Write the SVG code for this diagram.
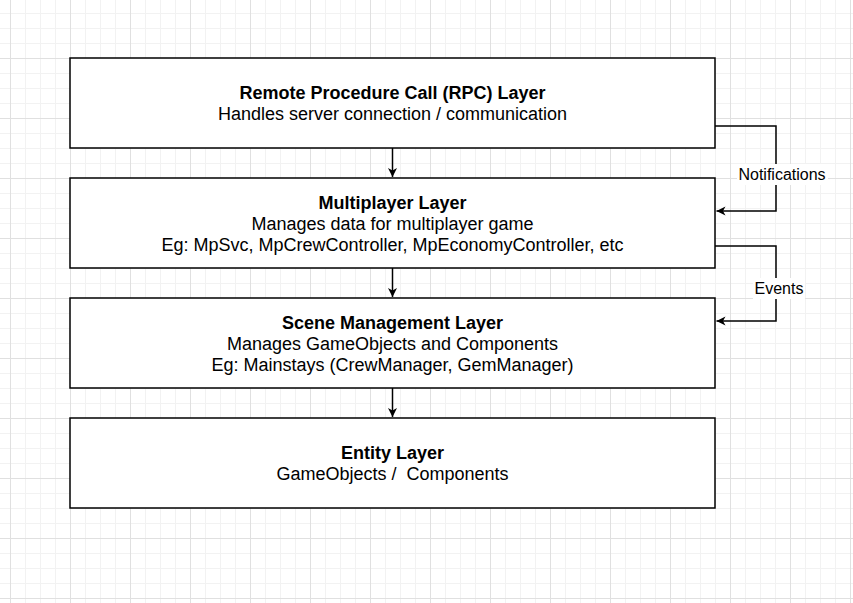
<svg xmlns="http://www.w3.org/2000/svg" width="853" height="603" viewBox="0 0 853 603">
  <style>
    .box { fill: #ffffff; stroke: #000000; stroke-width: 1.5; }
    .t { font-family: "Liberation Sans", Arial, Helvetica, sans-serif; font-size: 18px; fill: #000000; text-anchor: middle; }
    .l { font-family: "Liberation Sans", Arial, Helvetica, sans-serif; font-size: 16px; fill: #000000; text-anchor: middle; }
    .b { font-weight: bold; }
    .edge { fill: none; stroke: #000000; stroke-width: 1.5; }
    .lblbg { fill: #ffffff; }
  </style>
  <defs>
    <pattern id="grid" patternUnits="userSpaceOnUse" x="10" y="-2" width="60" height="60">
      <rect x="15" y="0" width="1" height="60" fill="#f2f2f2"/>
      <rect x="30" y="0" width="1" height="60" fill="#f2f2f2"/>
      <rect x="45" y="0" width="1" height="60" fill="#f2f2f2"/>
      <rect x="0" y="15" width="60" height="1" fill="#f2f2f2"/>
      <rect x="0" y="30" width="60" height="1" fill="#f2f2f2"/>
      <rect x="0" y="45" width="60" height="1" fill="#f2f2f2"/>
      <rect x="0" y="0" width="1" height="60" fill="#e0e0e0"/>
      <rect x="0" y="0" width="60" height="1" fill="#e0e0e0"/>
    </pattern>
    <marker id="arrow" markerUnits="userSpaceOnUse" viewBox="-10 -5 11 10" refX="0" refY="0" markerWidth="11" markerHeight="10" orient="auto">
      <path d="M0,0 L-9,-4.5 L-6.5,0 L-9,4.5 Z" fill="#000000" stroke="none"/>
    </marker>
  </defs>
  <rect x="0" y="0" width="853" height="603" fill="#ffffff"/>
  <rect x="0" y="0" width="853" height="603" fill="url(#grid)"/>

  <g id="connectors">
    <line class="edge" x1="392.5" y1="148" x2="392.5" y2="177" marker-end="url(#arrow)"/>
    <line class="edge" x1="392.5" y1="268" x2="392.5" y2="297" marker-end="url(#arrow)"/>
    <line class="edge" x1="392.5" y1="388" x2="392.5" y2="417" marker-end="url(#arrow)"/>
    <g id="edge-notifications">
      <polyline class="edge" points="715,126 776,126 776,211 716.5,211" marker-end="url(#arrow)"/>
      <rect class="lblbg" x="737" y="164" width="91" height="21"/>
      <text class="l" x="782" y="180">Notifications</text>
    </g>
    <g id="edge-events">
      <polyline class="edge" points="715,246 776,246 776,321 716.5,321" marker-end="url(#arrow)"/>
      <rect class="lblbg" x="753" y="278" width="52" height="21"/>
      <text class="l" x="779" y="294">Events</text>
    </g>
  </g>

  <g id="rpc-layer">
    <rect class="box" x="70" y="58" width="645" height="90"/>
    <text class="t b" x="392.5" y="98.5">Remote Procedure Call (RPC) Layer</text>
    <text class="t" x="392.5" y="119.5">Handles server connection / communication</text>
  </g>
  <g id="multiplayer-layer">
    <rect class="box" x="70" y="178" width="645" height="90"/>
    <text class="t b" x="392.5" y="209">Multiplayer Layer</text>
    <text class="t" x="392.5" y="230">Manages data for multiplayer game</text>
    <text class="t" x="392.5" y="251">Eg: MpSvc, MpCrewController, MpEconomyController, etc</text>
  </g>
  <g id="scene-management-layer">
    <rect class="box" x="70" y="298" width="645" height="90"/>
    <text class="t b" x="392.5" y="329">Scene Management Layer</text>
    <text class="t" x="392.5" y="350">Manages GameObjects and Components</text>
    <text class="t" x="392.5" y="371">Eg: Mainstays (CrewManager, GemManager)</text>
  </g>
  <g id="entity-layer">
    <rect class="box" x="70" y="418" width="645" height="90"/>
    <text class="t b" x="392.5" y="458.5">Entity Layer</text>
    <text class="t" x="392.5" y="479.5" xml:space="preserve">GameObjects /  Components</text>
  </g>
</svg>
